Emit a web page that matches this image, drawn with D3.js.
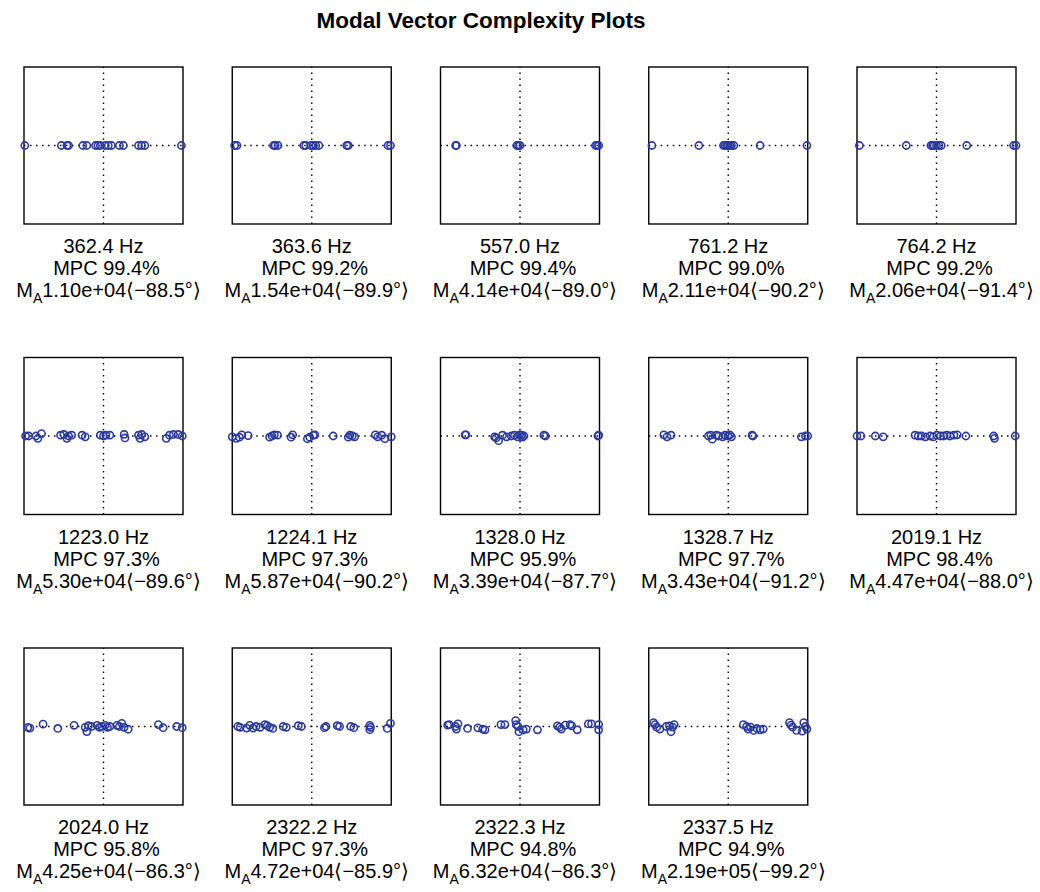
<!DOCTYPE html>
<html>
<head>
<meta charset="utf-8">
<script src="https://cdn.jsdelivr.net/npm/d3@7"></script>
<style>
  body { margin: 0; background: #fff; }
  text { font-family: "Liberation Sans", Arial, Helvetica, sans-serif; fill: #000; }
</style>
</head>
<body>
<div id="chart"></div>
<script>
const W = 1040, H = 892;

const freqs = ["362.4", "363.6", "557.0", "761.2", "764.2",
  "1223.0", "1224.1", "1328.0", "1328.7", "2019.1",
  "2024.0", "2322.2", "2322.3", "2337.5"];
const mpcs = ["99.4", "99.2", "99.4", "99.0", "99.2",
  "97.3", "97.3", "95.9", "97.7", "98.4",
  "95.8", "97.3", "94.8", "94.9"];
const mags = ["1.10e+04", "1.54e+04", "4.14e+04", "2.11e+04", "2.06e+04",
  "5.30e+04", "5.87e+04", "3.39e+04", "3.43e+04", "4.47e+04",
  "4.25e+04", "4.72e+04", "6.32e+04", "2.19e+05"];
const phases = ["-88.5", "-89.9", "-89.0", "-90.2", "-91.4",
  "-89.6", "-90.2", "-87.7", "-91.2", "-88.0",
  "-86.3", "-85.9", "-86.3", "-99.2"];

// normalised mode shape components [real, imag] per panel
const modes = [
  [[-0.99,0],[-0.53,0],[-0.46,0],[-0.44,0],[-0.26,0],[-0.21,0],[-0.10,0],[-0.07,0],[-0.04,0],
   [0.02,0],[0.06,0],[0.10,0],[0.20,0],[0.25,0],[0.44,0],[0.48,0],[0.52,0],[0.98,0]],
  [[-0.97,0],[-0.94,0],[-0.48,0],[-0.46,0],[-0.425,0],[-0.10,0],[-0.075,0],[-0.01,0],[0.02,0],
   [0.05,0],[0.09,0],[0.44,0],[0.46,0],[0.96,0],[0.99,0]],
  [[-0.81,0],[-0.80,0],[-0.04,0],[-0.02,0],[0.0,0],[0.95,0],[0.97,0],[0.99,0]],
  [[-0.96,0],[-0.37,0],[-0.06,0],[-0.04,0],[-0.02,0],[0,0],[0.02,0],[0.04,0],[0.07,0],[0.40,0],[0.99,0]],
  [[-0.97,0],[-0.38,0],[-0.07,0],[-0.05,0],[-0.03,0],[0.0,0],[0.03,0],[0.06,0],[0.38,0],[0.97,0],[1.0,0]],
  [[-0.98,0],[-0.94,0],[-0.85,0],[-0.825,-0.03],[-0.78,0.03],[-0.54,0.01],[-0.50,0.02],[-0.46,-0.03],
   [-0.44,0],[-0.40,0.01],[-0.27,0.01],[-0.23,-0.01],[-0.04,0.01],[0,0],[0.03,0.01],[0.08,0.01],
   [0.26,0.02],[0.27,-0.025],[0.44,0.01],[0.46,-0.03],[0.48,0.02],[0.52,-0.01],[0.79,-0.03],
   [0.83,0.01],[0.88,0.02],[0.94,0.02],[0.99,0]],
  [[-1.0,-0.01],[-0.95,-0.03],[-0.91,-0.015],[-0.88,0.015],[-0.80,0.005],[-0.53,-0.015],[-0.50,0],
   [-0.47,0.015],[-0.43,0.01],[-0.26,-0.015],[-0.24,0.015],[-0.055,-0.035],[-0.025,-0.015],
   [0.02,0.01],[0.04,0.015],[0.27,0],[0.46,-0.015],[0.48,0.01],[0.51,0],[0.54,-0.01],[0.80,0.015],
   [0.83,-0.01],[0.88,0.01],[0.92,-0.035],[1.0,-0.01]],
  [[-0.69,0.015],[-0.68,0.015],[-0.32,-0.01],[-0.30,-0.025],[-0.27,-0.06],[-0.22,0.01],[-0.17,-0.01],
   [-0.11,0],[-0.07,0.01],[-0.03,-0.01],[-0.005,0.015],[0.02,0.01],[0.03,-0.015],[0.05,0],
   [0.30,0.01],[0.32,0],[0.98,0],[0.99,0.01]],
  [[-0.81,0.015],[-0.77,-0.01],[-0.72,0.01],[-0.25,0],[-0.22,0.01],[-0.20,-0.04],[-0.15,0.01],
   [-0.12,0],[-0.07,-0.01],[-0.04,0.01],[-0.004,0],[0.02,0.015],[0.04,-0.01],[0.30,0.01],
   [0.31,0],[0.92,-0.01],[0.97,0],[1.0,0]],
  [[-1.0,0],[-0.95,0],[-0.77,0],[-0.67,-0.01],[-0.27,0.01],[-0.23,0],[-0.19,0],[-0.14,-0.01],
   [-0.08,0],[-0.04,-0.01],[0.004,0.01],[0.05,0],[0.09,0],[0.13,0.01],[0.17,0],[0.22,0.01],
   [0.26,0.015],[0.37,0],[0.72,0],[0.73,-0.03],[0.99,0]],
  [[-0.95,-0.01],[-0.925,-0.02],[-0.76,0.03],[-0.575,-0.025],[-0.37,0.015],[-0.23,-0.01],
   [-0.21,-0.065],[-0.19,0.01],[-0.15,0],[-0.08,0.015],[-0.05,-0.01],[-0.02,0],[0.02,0.015],
   [0.05,-0.01],[0.08,0],[0.17,0.015],[0.20,0],[0.23,0.04],[0.26,-0.01],[0.31,-0.035],
   [0.69,0.025],[0.75,-0.015],[0.92,0],[0.99,-0.015]],
  [[-0.93,0],[-0.90,-0.01],[-0.82,-0.02],[-0.78,0.015],[-0.74,-0.02],[-0.70,0],[-0.65,-0.01],
   [-0.59,0.025],[-0.56,0.01],[-0.53,-0.01],[-0.49,-0.025],[-0.36,0],[-0.32,-0.01],[-0.17,0.01],
   [-0.13,0],[0.16,-0.015],[0.18,0],[0.32,0.01],[0.35,0],[0.49,0],[0.53,-0.015],[0.73,0.015],
   [0.74,-0.01],[0.73,-0.04],[0.95,-0.025],[0.99,0.04]],
  [[-0.91,0.017],[-0.89,0.025],[-0.81,0],[-0.80,-0.033],[-0.78,0.033],[-0.66,-0.025],[-0.53,-0.017],
   [-0.47,-0.033],[-0.44,-0.042],[-0.24,0.025],[-0.19,0.025],[-0.055,0.075],[-0.046,0.025],
   [-0.025,0],[-0.013,-0.067],[0.04,-0.042],[0.08,-0.033],[0.22,-0.042],[0.47,0.008],[0.50,-0.008],
   [0.52,-0.033],[0.57,0.017],[0.63,0.025],[0.65,0.008],[0.72,-0.042],[0.86,0.033],[0.90,0.033],
   [0.99,0.025],[0.99,-0.042]],
  [[-0.94,0.05],[-0.92,0.025],[-0.90,-0.008],[-0.86,-0.033],[-0.78,0],[-0.74,0.008],[-0.72,-0.067],
   [-0.70,-0.008],[-0.68,0.025],[0.19,0.025],[0.23,0],[0.25,-0.033],[0.28,-0.008],[0.32,-0.05],
   [0.36,-0.025],[0.40,-0.042],[0.44,-0.033],[0.77,0.05],[0.79,0.017],[0.81,-0.008],[0.86,-0.05],
   [0.93,-0.058],[0.95,0.05],[0.97,0],[0.99,-0.033]]
];

const boxW = 159, boxH = 157;
const colX = d3.scaleLinear().domain([0, 4]).range([24, 857]);
const rowY = d3.scaleLinear().domain([0, 2]).range([67, 648]);
const x = d3.scaleLinear().domain([-1, 1]).range([0, boxW]);
const y = d3.scaleLinear().domain([-1, 1]).range([boxH, 0]);

const svg = d3.select("#chart").append("svg")
  .attr("width", W)
  .attr("height", H);

svg.append("text")
  .attr("x", 481)
  .attr("y", 28)
  .attr("text-anchor", "middle")
  .attr("font-weight", "bold")
  .attr("font-size", 22.5)
  .text("Modal Vector Complexity Plots");

const panels = svg.selectAll("g.panel")
  .data(modes)
  .enter()
  .append("g")
  .attr("class", "panel")
  .attr("transform", (d, i) => `translate(${colX(i % 5)},${rowY(Math.floor(i / 5))})`);

// dotted cross hairs
panels.append("line")
  .attr("x1", x(-1)).attr("x2", x(1))
  .attr("y1", y(0)).attr("y2", y(0))
  .attr("stroke", "#000").attr("stroke-width", 1.4)
  .attr("stroke-dasharray", "1.5,4.5");
panels.append("line")
  .attr("x1", x(0)).attr("x2", x(0))
  .attr("y1", y(-1)).attr("y2", y(1))
  .attr("stroke", "#000").attr("stroke-width", 1.4)
  .attr("stroke-dasharray", "1.5,4.5");

panels.append("rect")
  .attr("x", 0).attr("y", 0)
  .attr("width", boxW).attr("height", boxH)
  .attr("fill", "none")
  .attr("stroke", "#000")
  .attr("stroke-width", 1.4);

panels.selectAll("circle")
  .data(d => d)
  .enter()
  .append("circle")
  .attr("cx", d => x(d[0]))
  .attr("cy", d => y(d[1]))
  .attr("r", 3.6)
  .attr("fill", "none")
  .attr("stroke", "#2a3a9e")
  .attr("stroke-width", 1.6);

// labels under each box
const lab = panels.append("g")
  .attr("transform", `translate(${boxW / 2},${boxH})`)
  .attr("font-size", 20)
  .attr("text-anchor", "middle");

lab.append("text")
  .attr("y", 29)
  .text((d, i) => `${freqs[i]} Hz`);
lab.append("text")
  .attr("x", 3)
  .attr("y", 51)
  .text((d, i) => `MPC ${mpcs[i]}%`);

const ma = lab.append("text").attr("x", 5).attr("y", 73);
ma.append("tspan").text("M");
ma.append("tspan").attr("font-size", 14).attr("dy", 6).text("A");
ma.append("tspan").attr("dy", -6)
  .text((d, i) => `${mags[i]}\u27E8${phases[i].replace("-", "\u2212")}\u00B0\u27E9`);
</script>
</body>
</html>
